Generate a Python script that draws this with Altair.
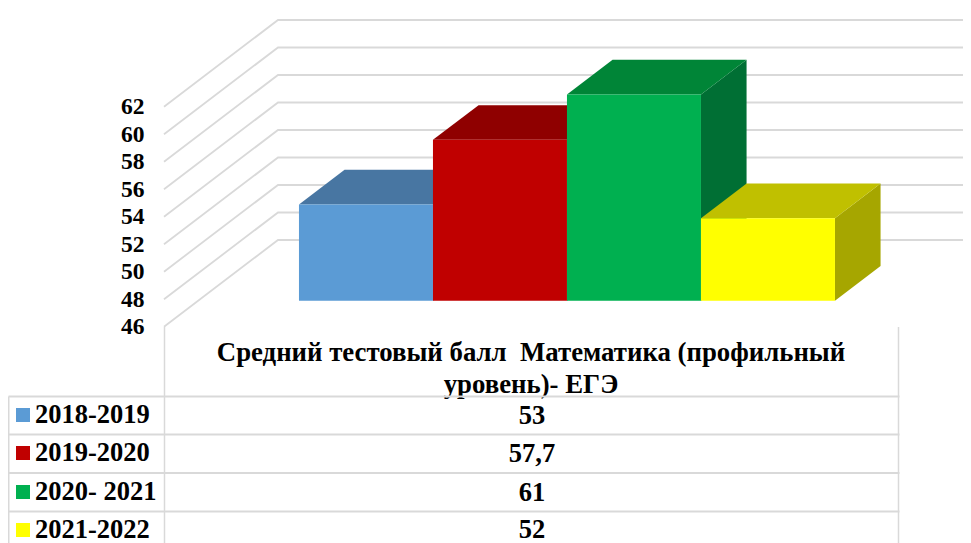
import altair as alt
import pandas as pd

# ---- values
seasons = ["2018-2019", "2019-2020", "2020- 2021", "2021-2022"]
scores = [53, 57.7, 61, 52]
score_labels = ["53", "57,7", "61", "52"]
header_lines = ["Средний тестовый балл\u00a0 Математика (профильный", "уровень)- ЕГЭ"]
y_ticks = [46, 48, 50, 52, 54, 56, 58, 60, 62]
front_colors = ["#5B9BD5", "#C00000", "#00B050", "#FFFF00"]
top_colors = ["#4876A2", "#8F0000", "#008537", "#C0C000"]
side_colors = ["#3E6690", "#7A0000", "#006F34", "#A6A600"]

# ---- projection and layout
FONT = "Liberation Serif"
PLOT_W, PLOT_H = 799, 220
PAD_L, PAD_T = 156, 98.7
PAD_B = 216.3
UNIT = 134
X_MIN = -0.752
X_MAX = X_MIN + PLOT_W / UNIT
VUNIT = PLOT_H / 16
DX = 114 / UNIT        # depth -> x units
DY = 86.7 / VUNIT      # depth -> value units
Z0, Z1 = 0.3, 0.7
BASE = 46


def px(x):  # page pixel to plot-group pixel
    return x - 8 - PAD_L


def py(y):
    return y - 8 - PAD_T


xs = alt.Scale(domain=[X_MIN, X_MAX], nice=False, zero=False)
ys = alt.Scale(domain=[46, 62], nice=False, zero=False)
X = lambda f: alt.X(f, type="quantitative", scale=xs, axis=None)
Y = lambda f: alt.Y(
    f,
    type="quantitative",
    scale=ys,
    axis=alt.Axis(
        values=y_ticks, title=None, domain=False, ticks=False, grid=False,
        labelFont=FONT, labelFontWeight="bold", labelFontSize=23.5,
        labelColor="black", labelPadding=20, labelOverlap=False,
    ),
)

# ---- grid walls
grid_rows = []
for t in y_ticks:
    grid_rows += [
        {"tick": t, "x": X_MIN, "y": t, "o": 0},
        {"tick": t, "x": X_MIN + DX, "y": t + DY, "o": 1},
        {"tick": t, "x": X_MAX, "y": t + DY, "o": 2},
    ]
grid = alt.Chart(pd.DataFrame(grid_rows)).mark_line(
    color="#D9D9D9", strokeWidth=1.8, clip=False
).encode(x=X("x"), y=Y("y"), detail="tick:N", order="o:Q")

layers = [grid]

# ---- bars
for i, (v, fc, tc, sc) in enumerate(zip(scores, front_colors, top_colors, side_colors)):
    x0, x1 = float(i), float(i + 1)
    side = pd.DataFrame(
        [
            {"x": x1 + Z0 * DX, "y": v + Z0 * DY, "y2": BASE + Z0 * DY},
            {"x": x1 + Z1 * DX, "y": v + Z1 * DY, "y2": BASE + Z1 * DY},
        ]
    )
    layers.append(
        alt.Chart(side).mark_area(color=sc, clip=False, orient="vertical").encode(
            x=X("x"), y=Y("y"), y2="y2:Q"
        )
    )
    top = pd.DataFrame(
        [
            {"y": v + Z0 * DY, "x": x0 + Z0 * DX, "x2": x1 + Z0 * DX},
            {"y": v + Z1 * DY, "x": x0 + Z1 * DX, "x2": x1 + Z1 * DX},
        ]
    )
    layers.append(
        alt.Chart(top).mark_area(color=tc, clip=False, orient="horizontal").encode(
            y=Y("y"), x=X("x"), x2="x2:Q"
        )
    )
    front = pd.DataFrame(
        [{"x": x0 + Z0 * DX, "x2": x1 + Z0 * DX, "y": v + Z0 * DY, "y2": BASE + Z0 * DY}]
    )
    layers.append(
        alt.Chart(front).mark_rect(color=fc, clip=False).encode(
            x=X("x"), x2="x2:Q", y=Y("y"), y2="y2:Q"
        )
    )

# ---- data table
one = alt.Data(values=[{"a": 1}])
TABLE_L, TABLE_M, TABLE_R = 8.5, 164.5, 898.5
ROW_LINES = [396.5, 434.5, 473, 511.5]
TABLE_BOTTOM = 543
CENTER = 532
GRID_C = "#D9D9D9"
TXT = 26.5


def rule(x1, y1, x2=None, y2=None, w=2):
    enc = dict(x=alt.value(px(x1)), y=alt.value(py(y1)))
    if x2 is not None:
        enc["x2"] = alt.value(px(x2))
    if y2 is not None:
        enc["y2"] = alt.value(py(y2))
    return alt.Chart(one).mark_rule(color=GRID_C, strokeWidth=w, clip=False).encode(**enc)


def text(s, x, y, align, size):
    return alt.Chart(one).mark_text(
        text=s, font=FONT, fontWeight="bold", fontSize=size, color="black",
        align=align, baseline="alphabetic", clip=False,
    ).encode(x=alt.value(px(x)), y=alt.value(py(y)))


for line, base in zip(header_lines, [361, 393]):
    layers.append(text(line, 531, base, "center", 26.8))

layers.append(rule(TABLE_M, 327, y2=TABLE_BOTTOM, w=1.5))
layers.append(rule(TABLE_R, 327, y2=TABLE_BOTTOM, w=1.5))
layers.append(rule(TABLE_L, ROW_LINES[0], y2=TABLE_BOTTOM, w=2))
for yy in ROW_LINES:
    layers.append(rule(TABLE_L, yy, x2=TABLE_R + 1, w=2))

label_bases = [423, 461, 500, 538]
value_bases = [424, 462, 501, 538]
for s, lab, col, b, vb in zip(seasons, score_labels, front_colors, label_bases, value_bases):
    layers.append(text(s, 35, b, "left", TXT))
    layers.append(text(lab, CENTER, vb, "center", TXT))
    layers.append(
        alt.Chart(one).mark_rect(color=col, clip=False).encode(
            x=alt.value(px(16)), x2=alt.value(px(30)),
            y=alt.value(py(b - 15)), y2=alt.value(py(b - 1)),
        )
    )

chart = (
    alt.layer(*layers)
    .properties(
        width=PLOT_W,
        height=PLOT_H,
        autosize=alt.AutoSizeParams(type="none"),
        padding={"left": PAD_L, "top": PAD_T, "right": 0, "bottom": PAD_B},
        background="white",
    )
    .configure_view(stroke=None)
)
chart.save("out.html", embed_options={"renderer": "svg", "actions": False})
